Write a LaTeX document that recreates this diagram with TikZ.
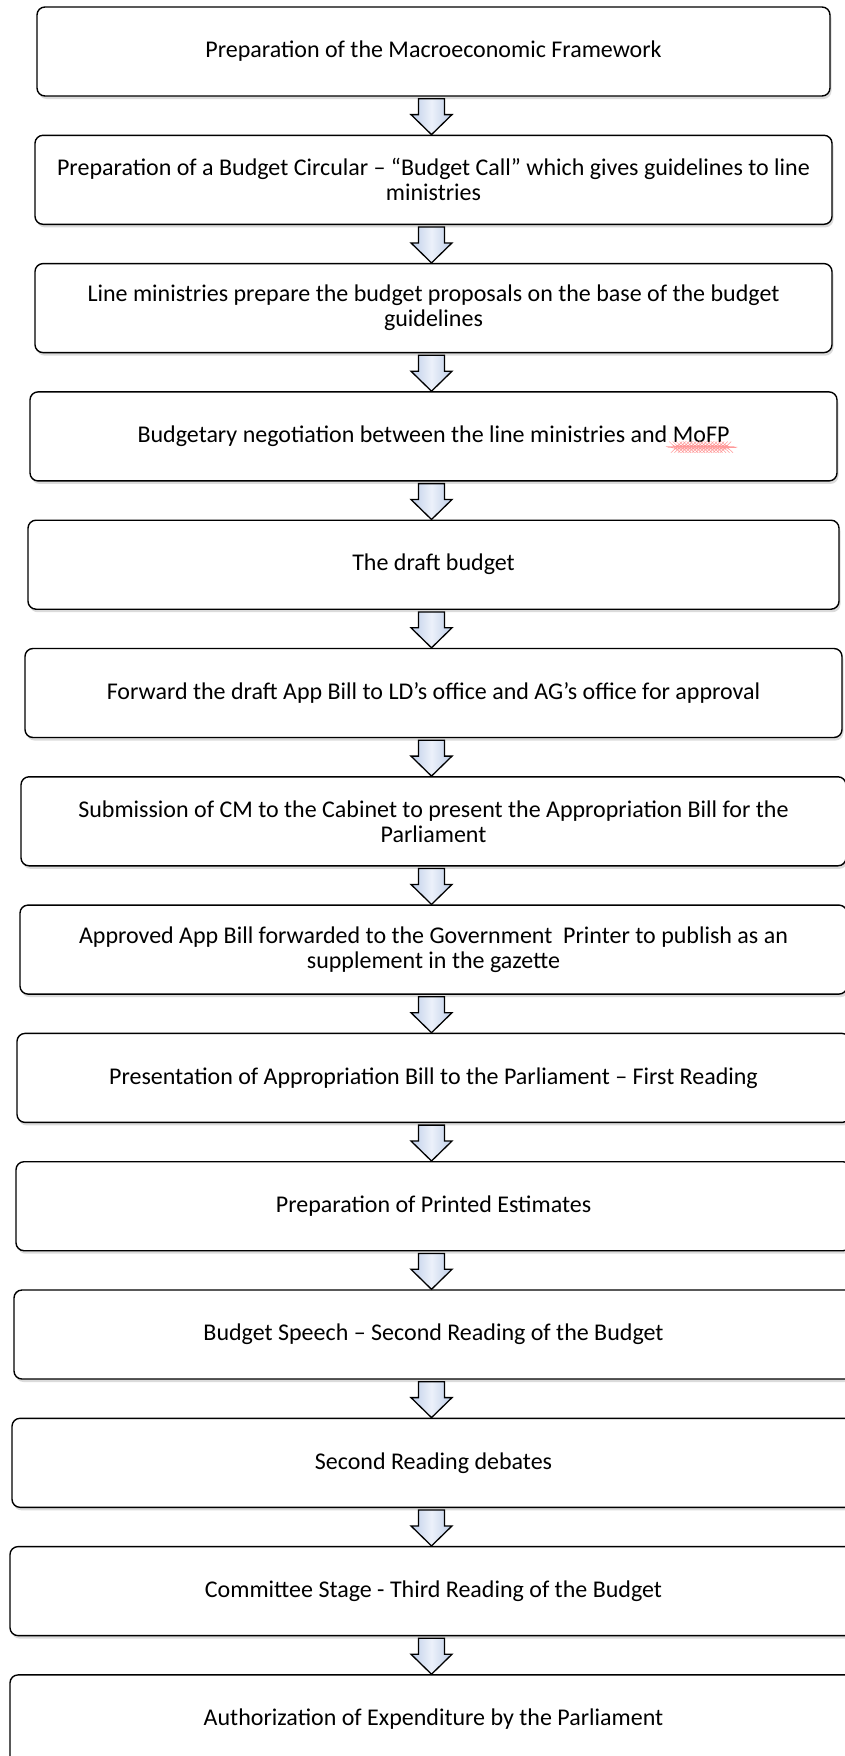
\documentclass[tikz,border=0pt]{standalone}
\usepackage{fontspec}
\setmainfont{Carlito}
\usetikzlibrary{calc,shadows,decorations.pathmorphing}
\definecolor{arrowblue}{RGB}{190,205,232}
\definecolor{arrowlight}{RGB}{236,241,250}
\newsavebox\wavebox
\newcommand\spellwave[1]{\sbox\wavebox{#1}\usebox\wavebox\tikz[overlay,baseline=0pt]{\draw[red!40,line width=0.45pt,decorate,decoration={snake,amplitude=0.55pt,segment length=3.5pt}] (-\wd\wavebox,-4.5pt) -- (0pt,-4.5pt);}}
\tikzset{
  flowbox/.style={draw=black, line width=1.4pt, rounded corners=8pt, fill=white,
    minimum height=89pt, inner sep=0pt, align=center,
    font=\fontsize{24}{25}\selectfont,
    drop shadow={opacity=0.28, shadow xshift=1.5pt, shadow yshift=-3pt}},
  blockarrow/.style={draw=black, line width=1.3pt, line join=miter,
    left color=arrowblue, right color=arrowblue, middle color=arrowlight}
}
\newcommand\flowarrow[2]{%
  \draw[blockarrow] let \p1=(#1.south -| axis), \p2=(#2.north -| axis) in
    (\x1-13pt,\y1-2pt) -- (\x1+13pt,\y1-2pt) -- (\x1+13pt,\y2+20pt)
    -- (\x1+20.5pt,\y2+20pt) -- (\x2,\y2) -- (\x1-20.5pt,\y2+20pt)
    -- (\x1-13pt,\y2+20pt) -- cycle;}
\begin{document}
\begin{tikzpicture}[x=1pt,y=-1pt]
\useasboundingbox (0,0) rectangle (844,1756);
\fill[white] (0,0) rectangle (844,1756);
\coordinate (axis) at (431.5,0);
\node[flowbox, minimum width=793pt] (b1) at (433.5,51.5) {Preparation of the Macroeconomic Framework};
\node[flowbox, minimum width=797pt] (b2) at (433.5,179.8) {Preparation of a Budget Circular – “Budget Call” which gives guidelines to line\\ministries};
\node[flowbox, minimum width=797pt] (b3) at (433.5,308.1) {Line ministries prepare the budget proposals on the base of the budget\\guidelines};
\node[flowbox, minimum width=807pt] (b4) at (433.5,436.4) {Budgetary negotiation between the line ministries and \spellwave{MoFP}};
\node[flowbox, minimum width=811pt] (b5) at (433.5,564.7) {The draft budget};
\node[flowbox, minimum width=817pt] (b6) at (433.5,693.0) {Forward the draft App Bill to LD’s office and AG’s office for approval};
\node[flowbox, minimum width=825pt] (b7) at (433.5,821.3) {Submission of CM to the Cabinet to present the Appropriation Bill for the\\Parliament};
\node[flowbox, minimum width=827pt] (b8) at (433.5,949.6) {Approved App Bill forwarded to the Government\ \ Printer to publish as an\\supplement in the gazette};
\node[flowbox, minimum width=833pt] (b9) at (433.5,1077.9) {Presentation of Appropriation Bill to the Parliament – First Reading};
\node[flowbox, minimum width=835pt] (b10) at (433.5,1206.2) {Preparation of Printed Estimates};
\node[flowbox, minimum width=839pt] (b11) at (433.5,1334.5) {Budget Speech – Second Reading of the Budget};
\node[flowbox, minimum width=843pt] (b12) at (433.5,1462.8) {Second Reading debates};
\node[flowbox, minimum width=847pt] (b13) at (433.5,1591.1) {Committee Stage - Third Reading of the Budget};
\node[flowbox, minimum width=847pt] (b14) at (433.5,1719.4) {Authorization of Expenditure by the Parliament};
\flowarrow{b1}{b2}
\flowarrow{b2}{b3}
\flowarrow{b3}{b4}
\flowarrow{b4}{b5}
\flowarrow{b5}{b6}
\flowarrow{b6}{b7}
\flowarrow{b7}{b8}
\flowarrow{b8}{b9}
\flowarrow{b9}{b10}
\flowarrow{b10}{b11}
\flowarrow{b11}{b12}
\flowarrow{b12}{b13}
\flowarrow{b13}{b14}
\end{tikzpicture}
\end{document}
